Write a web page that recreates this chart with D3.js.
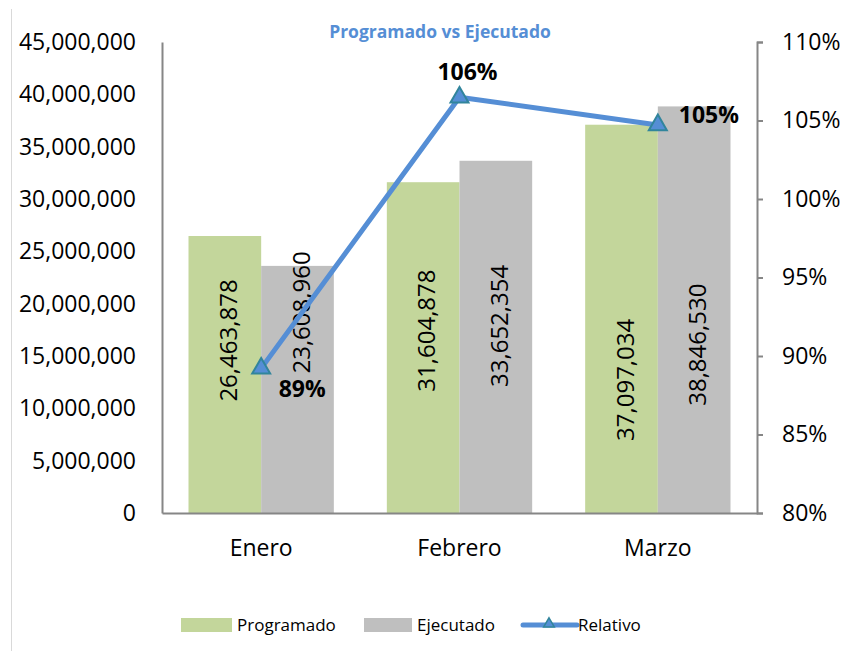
<!DOCTYPE html>
<html>
<head>
<meta charset="utf-8">
<script src="https://cdn.jsdelivr.net/npm/d3@7"></script>
<style>
  body { margin: 0; background: #fff; }
  svg { display: block; font-family: "Open Sans", sans-serif; }
</style>
</head>
<body>
<div id="chart"></div>
<script>
// Chart data
const months = ["Enero", "Febrero", "Marzo"];
const programado = [26463878, 31604878, 37097034];
const ejecutado = [23608960, 33652354, 38846530];
const relativo = ejecutado.map((d, i) => d / programado[i]);
const leftTicks = [0, 5000000, 10000000, 15000000, 20000000, 25000000, 30000000, 35000000, 40000000, 45000000];
const rightTicks = [0.80, 0.85, 0.90, 0.95, 1.00, 1.05, 1.10];
const seriesNames = ["Programado", "Ejecutado"];

const colors = { Programado: "#c3d69b", Ejecutado: "#bfbfbf", line: "#558ed5", marker: "#31859c", axis: "#868686" };

// Layout
const width = 847, height = 651;
const plot = { left: 162, right: 757, top: 42, bottom: 513 };

// Manual label placement (like the hand-moved labels in the original)
const barLabelShift = [[-34, -77], [-17, -11], [61, 35]];   // vertical shift from bar middle
const pctLabelOffset = [[41, 29], [8, -17], [51, -2]];

const svg = d3.select("#chart")
    .append("svg")
    .attr("width", width)
    .attr("height", height);

// chart border (only left edge visible)
svg.append("line")
    .attr("x1", 11.5).attr("x2", 11.5)
    .attr("y1", 9).attr("y2", height)
    .attr("stroke", "#d9d9d9");

const x0 = d3.scaleBand()
    .domain(months)
    .range([plot.left, plot.right]);

const x1 = d3.scaleBand()
    .domain(seriesNames)
    .range([26.5, x0.bandwidth() - 26.5]);

const y = d3.scaleLinear()
    .domain([0, 45000000])
    .range([plot.bottom, plot.top]);

const y2 = d3.scaleLinear()
    .domain([0.8, 1.1])
    .range([plot.bottom, plot.top]);

// Title
svg.append("text")
    .attr("x", 440)
    .attr("y", 38)
    .attr("text-anchor", "middle")
    .style("font-size", "17.5px")
    .style("font-weight", "bold")
    .attr("fill", colors.line)
    .text("Programado vs Ejecutado");

// Bars
const rows = months.map((m, i) => ({ month: m, i: i, values: [programado[i], ejecutado[i]] }));

const groups = svg.append("g")
    .selectAll("g")
    .data(rows)
    .enter()
    .append("g")
    .attr("transform", d => "translate(" + x0(d.month) + ",0)");

groups.selectAll("rect")
    .data(d => d.values.map((v, k) => ({ key: seriesNames[k], value: v })))
    .enter()
    .append("rect")
    .attr("x", d => x1(d.key))
    .attr("y", d => y(d.value))
    .attr("width", x1.bandwidth())
    .attr("height", d => plot.bottom - y(d.value))
    .attr("fill", d => colors[d.key]);

// Axes
const fmt = d3.format(",");
const yAxis = svg.append("g")
    .attr("transform", "translate(" + plot.left + ",0)")
    .call(d3.axisLeft(y).tickValues(leftTicks).tickFormat(fmt).tickSize(0).tickPadding(26));

const y2Axis = svg.append("g")
    .attr("transform", "translate(" + plot.right + ",0)")
    .call(d3.axisRight(y2).tickValues(rightTicks).tickFormat(d3.format(".0%")).tickSize(6).tickSizeOuter(6).tickPadding(19));

const xAxis = svg.append("g")
    .attr("transform", "translate(0," + plot.bottom + ")")
    .call(d3.axisBottom(x0).tickSize(0).tickSizeOuter(0));

xAxis.selectAll("text")
    .attr("y", 43)
    .attr("dy", 0);

[yAxis, y2Axis, xAxis].forEach(a => {
    a.attr("font-family", null).attr("font-size", null);
    a.selectAll("text").style("font-size", "23px").attr("fill", "#000");
    a.select(".domain").attr("stroke", colors.axis).attr("stroke-width", 2);
    a.selectAll(".tick line").attr("stroke", colors.axis).attr("stroke-width", 2);
});

// Bar value labels, rotated
groups.each(function(d) {
    const g = d3.select(this);
    d.values.forEach((v, k) => {
        const cx = x1(seriesNames[k]) + x1.bandwidth() / 2 + 12;
        const cy = (y(v) + plot.bottom) / 2 + barLabelShift[d.i][k];
        g.append("text")
            .attr("transform", "translate(" + cx + "," + cy + ") rotate(-90)")
            .attr("text-anchor", "middle")
            .style("font-size", "24px")
            .attr("fill", "#000")
            .text(fmt(v));
    });
});

// Relative line
const lineData = months.map((m, i) => ({ x: x0(m) + x0.bandwidth() / 2, y: y2(relativo[i]), v: relativo[i], i: i }));

svg.append("path")
    .datum(lineData)
    .attr("fill", "none")
    .attr("stroke", colors.line)
    .attr("stroke-width", 5)
    .attr("stroke-linejoin", "round")
    .attr("d", d3.line().x(d => d.x).y(d => d.y));

svg.append("g")
    .selectAll("path")
    .data(lineData)
    .enter()
    .append("path")
    .attr("transform", d => "translate(" + d.x + "," + d.y + ")")
    .attr("d", d3.symbol().type(d3.symbolTriangle).size(140))
    .attr("fill", colors.line)
    .attr("stroke", colors.marker)
    .attr("stroke-width", 2);

svg.append("g")
    .selectAll("text")
    .data(lineData)
    .enter()
    .append("text")
    .attr("x", d => d.x + pctLabelOffset[d.i][0])
    .attr("y", d => d.y + pctLabelOffset[d.i][1])
    .attr("text-anchor", "middle")
    .style("font-size", "23px")
    .style("font-weight", "bold")
    .attr("fill", "#000")
    .text(d => d3.format(".0%")(d.v));

// Legend
const legend = svg.append("g").style("font-size", "17px");

legend.append("rect").attr("x", 181).attr("y", 618).attr("width", 51).attr("height", 14).attr("fill", colors.Programado);
legend.append("text").attr("x", 237).attr("y", 631).text("Programado");

legend.append("rect").attr("x", 364).attr("y", 618).attr("width", 48).attr("height", 14).attr("fill", colors.Ejecutado);
legend.append("text").attr("x", 417).attr("y", 631).text("Ejecutado");

legend.append("line")
    .attr("x1", 523).attr("x2", 577).attr("y1", 625).attr("y2", 625)
    .attr("stroke", colors.line).attr("stroke-width", 5).attr("stroke-linecap", "round");
legend.append("path")
    .attr("transform", "translate(549,624)")
    .attr("d", d3.symbol().type(d3.symbolTriangle).size(50))
    .attr("fill", colors.line)
    .attr("stroke", colors.marker)
    .attr("stroke-width", 1.5);
legend.append("text").attr("x", 578).attr("y", 631).text("Relativo");
</script>
</body>
</html>
